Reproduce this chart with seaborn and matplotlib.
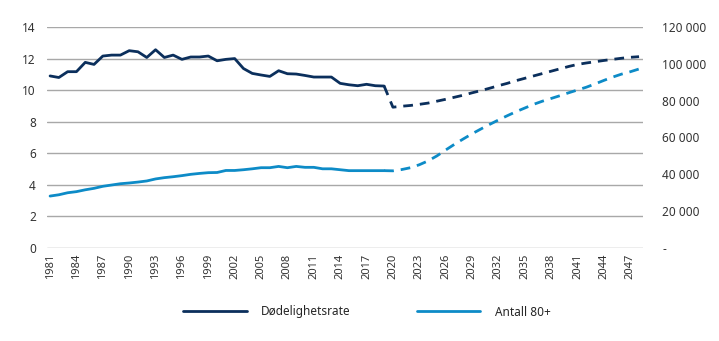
import matplotlib
matplotlib.use("Agg")
import matplotlib.pyplot as plt
from matplotlib.lines import Line2D
from matplotlib.ticker import FuncFormatter
import seaborn as sns
import pandas as pd
import numpy as np

# ---- data ----
years_hist = list(range(1981, 2020))
rate_hist = [10.9, 10.8, 11.17, 11.17, 11.76, 11.63, 12.16, 12.22, 12.22, 12.5,
             12.43, 12.07, 12.56, 12.07, 12.22, 11.95, 12.1, 12.1, 12.16, 11.86,
             11.95, 12.0, 11.37, 11.06, 10.96, 10.87, 11.23, 11.04, 11.02, 10.93,
             10.83, 10.83, 10.83, 10.43, 10.34, 10.28, 10.37, 10.28, 10.26]
count_hist = [28200, 28900, 30000, 30600, 31600, 32400, 33500, 34200, 34900, 35300,
              35800, 36400, 37500, 38200, 38700, 39300, 40000, 40500, 40900, 41000,
              42100, 42100, 42500, 43000, 43600, 43600, 44300, 43600, 44300, 43800,
              43800, 43000, 43000, 42500, 42000, 42000, 42000, 42000, 42000]

years_proj = list(range(2019, 2049))
rate_proj = [10.26, 8.92, 8.98, 9.03, 9.1, 9.18, 9.3, 9.42, 9.55, 9.68,
             9.83, 9.97, 10.12, 10.28, 10.43, 10.6, 10.75, 10.9, 11.05, 11.2,
             11.35, 11.5, 11.63, 11.72, 11.8, 11.88, 11.95, 12.02, 12.08, 12.12]
count_proj = [42000, 41900, 42600, 43600, 45200, 47300, 50000, 53200, 56300, 59200,
              62000, 64600, 67100, 69500, 71800, 74000, 76000, 78000, 79700, 81200,
              82700, 84300, 85800, 87300, 89100, 91000, 92800, 94400, 95700, 97200]

xticks = list(range(1981, 2048, 3))
left_ticks = [0, 2, 4, 6, 8, 10, 12, 14]
right_ticks = [0, 20000, 40000, 60000, 80000, 100000, 120000]
series_names = ["Dødelighetsrate", "Antall 80+"]

dark = "#0b2f5c"
light = "#0d8bc7"

sns.set_theme(style="white")
plt.rcParams["font.family"] = ["Noto Sans", "DejaVu Sans"]

fig = plt.figure(figsize=(7.19, 3.41), dpi=100)
ax = fig.add_axes([47/719, 1-248/341, (643-47)/719, (248-27)/341])
ax2 = ax.twinx()

df_rh = pd.DataFrame({"year": years_hist, "v": rate_hist})
df_rp = pd.DataFrame({"year": years_proj, "v": rate_proj})
df_ch = pd.DataFrame({"year": years_hist, "v": count_hist})
df_cp = pd.DataFrame({"year": years_proj, "v": count_proj})

sns.lineplot(data=df_rh, x="year", y="v", ax=ax, color=dark, lw=2)
sns.lineplot(data=df_rp, x="year", y="v", ax=ax, color=dark, lw=2,
             linestyle=(0, (3.5, 2.5)))
sns.lineplot(data=df_ch, x="year", y="v", ax=ax2, color=light, lw=2)
sns.lineplot(data=df_cp, x="year", y="v", ax=ax2, color=light, lw=2,
             linestyle=(0, (3.5, 2.5)))

ax.set_xlim(1980.65, 2048.45)
ax.set_ylim(0, 14)
ax2.set_ylim(0, 120000)
ax.set_yticks(left_ticks)
ax2.set_yticks(right_ticks)
ax.set_xticks(xticks)
ax.set_xticklabels([str(y) for y in xticks], rotation=90, fontsize=8, color="#333333")
ax.tick_params(axis="y", labelsize=8.5, colors="#333333", length=0, pad=8)
ax.tick_params(axis="x", length=0, pad=4)
ax2.tick_params(axis="y", labelsize=8.5, colors="#333333", length=0, pad=14)
ax2.yaxis.set_major_formatter(FuncFormatter(
    lambda v, p: "-" if v == 0 else f"{int(v):,}".replace(",", " ")))

ax.grid(axis="y", color="#a8a8a8", lw=1)
ax.grid(axis="x", visible=False)
ax2.grid(False)
for a in (ax, ax2):
    for s in a.spines.values():
        s.set_visible(False)
    a.set_xlabel("")
    a.set_ylabel("")

handles = [Line2D([], [], color=dark, lw=2), Line2D([], [], color=light, lw=2)]
fig.legend(handles, series_names, loc="center", bbox_to_anchor=(0.51, 1-312/341),
           ncol=2, frameon=False, fontsize=8.5, handlelength=5.4, columnspacing=5.6,
           handletextpad=1.2)

fig.savefig("out.png", dpi=100)
